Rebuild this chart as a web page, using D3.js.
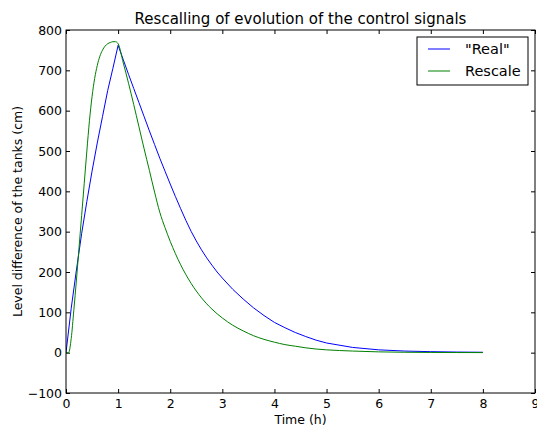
<!DOCTYPE html>
<html>
<head>
<meta charset="utf-8">
<script src="https://cdn.jsdelivr.net/npm/d3@7"></script>
<style>
  html, body { margin: 0; padding: 0; background: #fff; }
  svg { display: block; font-family: "DejaVu Sans", sans-serif; }
</style>
</head>
<body>
<svg id="chart" width="537" height="427"></svg>
<script>
// ---- data ----
const realTime = [0, 0.1, 0.2, 0.3, 0.4, 0.5, 0.6, 0.7, 0.8, 0.9, 1.0,
  1.1, 1.2, 1.3, 1.4, 1.5, 1.6, 1.7, 1.8, 1.9, 2.0,
  2.1, 2.2, 2.3, 2.4, 2.5, 2.6, 2.7, 2.8, 2.9, 3.0,
  3.2, 3.4, 3.6, 3.8, 4.0, 4.2, 4.4, 4.6, 4.8, 5.0,
  5.5, 6.0, 6.5, 7.0, 7.5, 8.0];
const realValues = [0, 110, 205, 295, 375, 450, 520, 585, 650, 705, 762,
  726, 690, 655, 620, 585, 550, 516, 482, 450, 418,
  387, 357, 328, 301, 277, 255, 235, 217, 200, 185,
  157, 133, 111, 92, 75, 62, 50, 40, 31, 24,
  13, 7, 4, 2.5, 1.5, 1];

const rescaleTime = [0, 0.05, 0.1, 0.15, 0.2, 0.25, 0.3, 0.35, 0.4, 0.45, 0.5,
  0.55, 0.6, 0.65, 0.7, 0.75, 0.8, 0.85, 0.9, 0.95, 1.0,
  1.1, 1.2, 1.3, 1.4, 1.5, 1.6, 1.7, 1.8, 1.9, 2.0, 2.2, 2.4, 2.6, 2.8, 3.0,
  3.2, 3.4, 3.6, 3.8, 4.0, 4.2, 4.4, 4.6, 4.8, 5.0, 5.5, 6.0, 6.5, 7.0, 7.5, 8.0];
const rescaleValues = [0, 0, 35, 105, 180, 260, 340, 420, 500, 575, 635,
  680, 712, 735, 750, 760, 766, 769, 771, 771, 766,
  718, 668, 615, 560, 505, 452, 398, 348, 310, 276, 218, 172, 136, 108, 86,
  68, 54, 42, 33, 26, 20, 16, 12, 9, 7, 4, 2, 1, 0.6, 0.3, 0.2];

const xTicks = [0, 1, 2, 3, 4, 5, 6, 7, 8, 9];
const yTicks = [-100, 0, 100, 200, 300, 400, 500, 600, 700, 800];
const seriesNames = ['"Real"', "Rescale"];
const seriesColors = ["#0000ff", "#008000"];
const titleText = "Rescalling of evolution of the control signals";
const xLabel = "Time (h)";
const yLabel = "Level difference of the tanks (cm)";

// ---- layout ----
const svg = d3.select("#chart");
const plot = { left: 66, right: 535, top: 30, bottom: 393 };

const x = d3.scaleLinear().domain([0, 9]).range([plot.left, plot.right]);
const y = d3.scaleLinear().domain([-100, 800]).range([plot.bottom, plot.top]);

const fmt = d => d < 0 ? "\u2212" + Math.abs(d) : String(d);

const gx = svg.append("g").attr("transform", `translate(0,${plot.bottom})`)
  .call(d3.axisBottom(x).tickValues(xTicks).tickSize(-4).tickPadding(6).tickFormat(fmt));
const gxt = svg.append("g").attr("transform", `translate(0,${plot.top})`)
  .call(d3.axisTop(x).tickValues(xTicks).tickSize(-4).tickFormat(""));
const gy = svg.append("g").attr("transform", `translate(${plot.left},0)`)
  .call(d3.axisLeft(y).tickValues(yTicks).tickSize(-4).tickPadding(4).tickFormat(fmt));
const gyr = svg.append("g").attr("transform", `translate(${plot.right},0)`)
  .call(d3.axisRight(y).tickValues(yTicks).tickSize(-4).tickFormat(""));

[gx, gxt, gy, gyr].forEach(g => {
  g.select(".domain").remove();
  g.selectAll(".tick line").attr("stroke", "#000").attr("stroke-width", 1);
  g.selectAll(".tick text").attr("fill", "#000").attr("font-size", 12.5)
    .attr("font-family", "DejaVu Sans, sans-serif");
});

// series lines
const lineReal = d3.line().x(d => x(d[0])).y(d => y(d[1])).curve(d3.curveLinear);
const lineRescale = d3.line().x(d => x(d[0])).y(d => y(d[1])).curve(d3.curveMonotoneX);
const realData = realTime.map((t, i) => [t, realValues[i]]);
const rescaleData = rescaleTime.map((t, i) => [t, rescaleValues[i]]);

svg.append("defs").append("clipPath").attr("id", "clip")
  .append("rect").attr("x", plot.left).attr("y", plot.top)
  .attr("width", plot.right - plot.left).attr("height", plot.bottom - plot.top);

const lines = svg.append("g").attr("clip-path", "url(#clip)");
lines.append("path").datum(realData).attr("d", lineReal)
  .attr("fill", "none").attr("stroke", seriesColors[0]).attr("stroke-width", 1)
  .attr("stroke-linejoin", "round");
lines.append("path").datum(rescaleData).attr("d", lineRescale)
  .attr("fill", "none").attr("stroke", seriesColors[1]).attr("stroke-width", 1)
  .attr("stroke-linejoin", "round");

// frame
svg.append("rect").attr("x", plot.left).attr("y", plot.top)
  .attr("width", plot.right - plot.left).attr("height", plot.bottom - plot.top)
  .attr("fill", "none").attr("stroke", "#000").attr("stroke-width", 1);

// title and labels
svg.append("text").attr("x", (plot.left + plot.right) / 2).attr("y", 24)
  .attr("text-anchor", "middle").attr("font-size", 15).attr("fill", "#000")
  .text(titleText);
svg.append("text").attr("x", (plot.left + plot.right) / 2).attr("y", 424)
  .attr("text-anchor", "middle").attr("font-size", 12.5).attr("fill", "#000")
  .text(xLabel);
svg.append("text")
  .attr("transform", `translate(22,${(plot.top + plot.bottom) / 2}) rotate(-90)`)
  .attr("text-anchor", "middle").attr("font-size", 12.5).attr("fill", "#000")
  .text(yLabel);

// legend
const lg = svg.append("g").attr("transform", "translate(417,37)");
lg.append("rect").attr("x", 0).attr("y", 0).attr("width", 111).attr("height", 48)
  .attr("fill", "#fff").attr("stroke", "#000").attr("stroke-width", 1);
seriesNames.forEach((name, i) => {
  const yy = 12 + i * 22;
  lg.append("line").attr("x1", 11).attr("x2", 33).attr("y1", yy).attr("y2", yy)
    .attr("stroke", seriesColors[i]).attr("stroke-width", 1);
  lg.append("text").attr("x", 48).attr("y", yy + 5).attr("font-size", 14.5)
    .attr("fill", "#000").text(name);
});
</script>
</body>
</html>
